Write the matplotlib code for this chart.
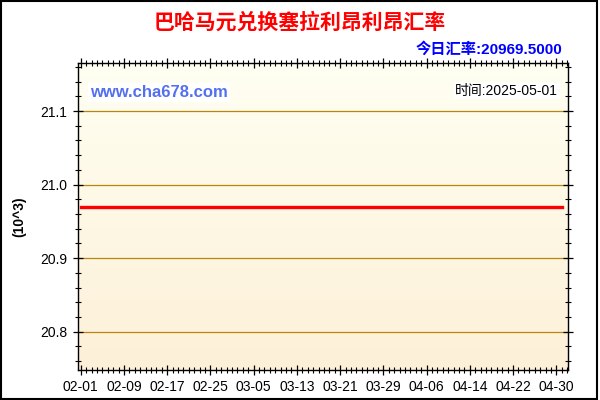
import matplotlib
matplotlib.use("Agg")
import matplotlib.pyplot as plt
import matplotlib.dates as mdates
from matplotlib.ticker import MultipleLocator
from matplotlib.patches import Rectangle
import numpy as np
import datetime as dt

plt.rcParams['font.family'] = ['Liberation Sans', 'Noto Sans CJK SC', 'DejaVu Sans']

# data
start_date = dt.datetime(2025, 2, 1)
end_date = dt.datetime(2025, 5, 1)
dates = [start_date, end_date]
rate = [20969.5, 20969.5]  # BSD -> SLL, flat over the period
rate_k = [r / 1000 for r in rate]
title = "巴哈马元兑换塞拉利昂利昂汇率"
today_text = "今日汇率:20969.5000"
time_text = "时间:2025-05-01"
site_text = "www.cha678.com"

fig = plt.figure(figsize=(6, 4), dpi=100)
ax = fig.add_axes([0.13, 0.075, 0.8167, 0.767])

# background gradient
grad = np.linspace(0, 1, 256).reshape(-1, 1)
top_c = np.array([255, 255, 242]) / 255
bot_c = np.array([253, 240, 216]) / 255
img = top_c + (bot_c - top_c) * grad[:, :, None]
ax.imshow(img, extent=[0, 1, 0, 1], transform=ax.transAxes, aspect='auto', zorder=0)

ax.plot(dates, rate_k, color='#FF0000', lw=2.4, zorder=3)

ax.set_xlim(dt.datetime(2025, 1, 31, 12), dt.datetime(2025, 5, 2, 4))
ax.set_ylim(20.748, 21.165)

ax.yaxis.set_major_locator(MultipleLocator(0.1))
ax.yaxis.set_minor_locator(MultipleLocator(0.02))
ax.yaxis.set_major_formatter(matplotlib.ticker.FormatStrFormatter('%.1f'))
ax.grid(axis='y', which='major', color='#B8860B', lw=0.9, zorder=1)

label_days = [start_date + dt.timedelta(days=8 * i) for i in range(12)]
ax.set_xticks(label_days)
ax.xaxis.set_major_formatter(mdates.DateFormatter('%m-%d'))
ax.xaxis.set_minor_locator(mdates.DayLocator())

ax.tick_params(which='both', top=True, right=True, direction='inout', labelsize=10, colors='black')
ax.tick_params(which='major', length=7, width=0.9, pad=4)
ax.tick_params(which='minor', length=5, width=0.8)
for s in ax.spines.values():
    s.set_linewidth(1.0)

ax.set_ylabel('(10^3)', fontsize=10, fontweight='bold', labelpad=10)

fig.text(0.5, 0.945, title, ha='center', va='center', color='#FF0000',
         fontsize=15, fontweight='bold')
fig.text(0.938, 0.877, today_text, ha='right', va='center', color='#0000FF',
         fontsize=11, fontweight='bold')
ax.text(0.025, 0.905, site_text, transform=ax.transAxes, ha='left', va='center',
        color='#5470EE', fontsize=12, fontweight='bold',
        bbox=dict(facecolor='white', edgecolor='none', pad=1.5), zorder=4)
ax.text(0.98, 0.91, time_text, transform=ax.transAxes, ha='right', va='center',
        color='black', fontsize=10,
        bbox=dict(facecolor='white', edgecolor='none', pad=1.0), zorder=4)

fig.patches.append(Rectangle((0.001, 0.002), 0.994, 0.996, transform=fig.transFigure,
                             fill=False, edgecolor='black', lw=1.5))

fig.savefig('out.png', dpi=100)
